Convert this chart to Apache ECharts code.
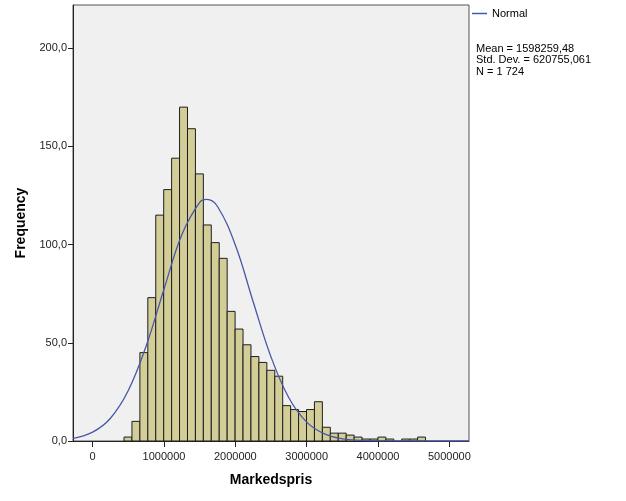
<!DOCTYPE html>
<html>
<head>
<meta charset="utf-8">
<script src="https://cdn.jsdelivr.net/npm/echarts@6/dist/echarts.min.js"></script>
<style>
html,body{margin:0;padding:0;background:#fff;}
#chart{width:626px;height:501px;}
</style>
</head>
<body>
<div id="chart"></div>
<script>
// Histogram of Markedspris
var binStart = 440000;
var binWidth = 111200;
var binCounts = [2, 10, 45, 73, 115, 128, 144, 170, 159, 136, 110, 101, 93, 66, 57, 49, 43, 40, 36, 33,
                 18, 16, 15, 16, 20, 7, 4, 4, 3, 2, 1, 1, 2, 1, 0, 1, 1, 2];

// Normal curve
var curveX = [-275000, 0, 250000, 500000, 750000, 1000000, 1250000, 1500000, 1600000, 1750000,
              2000000, 2250000, 2500000, 2750000, 3000000, 3250000, 3500000, 3750000, 4000000, 4500000, 5275000];
var curveY = [1.3, 4.5, 11.6, 25.7, 48.4, 77.3, 105.0, 121.5, 123.0, 119.4,
              99.8, 70.9, 42.8, 22.0, 9.6, 3.6, 1.1, 0.3, 0.1, 0.0, 0.0];

var xTicks = [0, 1000000, 2000000, 3000000, 4000000, 5000000];
var yTicks = [0, 50, 100, 150, 200];

var statsLines = ['Mean = 1598259,48', 'Std. Dev. = 620755,061', 'N = 1 724'];

var barData = binCounts.map(function (c, i) {
  return [binStart + i * binWidth, binStart + (i + 1) * binWidth, c];
});
var curveData = curveX.map(function (x, i) { return [x, curveY[i]]; });

var FONT = '"Liberation Sans", Arial, sans-serif';
var CURVE = '#4858A8';
var chart = echarts.init(document.getElementById('chart'), null, {renderer: 'canvas'});
chart.setOption({
  backgroundColor: '#ffffff',
  animation: false,
  textStyle: {fontFamily: FONT},
  grid: {
    left: 73, right: 157, top: 5, bottom: 60,
    show: true, backgroundColor: '#F0F0F0', borderColor: '#555555', borderWidth: 1
  },
  legend: {
    left: 467, top: 3,
    itemWidth: 15, itemHeight: 10, itemGap: 4,
    textStyle: {fontFamily: FONT, fontSize: 11, color: '#000'},
    data: [{name: 'Normal', icon: 'path://M0,4 L20,4 L20,6 L0,6 Z', itemStyle: {color: CURVE}}]
  },
  graphic: [{
    type: 'text', left: 476, top: 43,
    style: {text: statsLines.join('\n'), font: '11px ' + FONT, fill: '#000', lineHeight: 11.5}
  }],
  xAxis: {
    type: 'value', min: -275000, max: 5275000,
    name: 'Markedspris', nameLocation: 'middle', nameGap: 32,
    nameTextStyle: {fontFamily: FONT, fontSize: 14, fontWeight: 'bold', color: '#000'},
    splitLine: {show: false},
    axisLine: {show: true, onZero: false, lineStyle: {color: '#222', width: 1}},
    axisTick: {show: true, length: 6, customValues: xTicks, lineStyle: {color: '#222'}},
    axisLabel: {customValues: xTicks, margin: 10, fontSize: 11, color: '#222', fontFamily: FONT,
      formatter: function (v) { return String(v); }}
  },
  yAxis: {
    type: 'value', min: 0, max: 222,
    name: 'Frequency', nameLocation: 'middle', nameGap: 39,
    nameTextStyle: {fontFamily: FONT, fontSize: 14, fontWeight: 'bold', color: '#000'},
    splitLine: {show: false},
    axisLine: {show: true, onZero: false, lineStyle: {color: '#222', width: 1}},
    axisTick: {show: true, length: 5, customValues: yTicks, lineStyle: {color: '#222'}},
    axisLabel: {customValues: yTicks, margin: 6, fontSize: 11, color: '#222', fontFamily: FONT,
      formatter: function (v) { return v.toFixed(1).replace('.', ','); }}
  },
  series: [{
    type: 'custom',
    name: 'hist',
    z: 2,
    data: barData,
    renderItem: function (params, api) {
      var p0 = api.coord([api.value(0), api.value(2)]);
      var p1 = api.coord([api.value(1), 0]);
      if (api.value(2) <= 0) return null;
      return {
        type: 'rect',
        shape: {x: p0[0], y: p0[1], width: p1[0] - p0[0], height: p1[1] - p0[1]},
        style: {fill: '#D3CE97', stroke: '#1e1e1e', lineWidth: 1}
      };
    }
  }, {
    type: 'line',
    name: 'Normal',
    z: 5,
    data: curveData,
    smooth: 0.4,
    symbol: 'none',
    clip: true,
    color: CURVE,
    lineStyle: {color: CURVE, width: 1.3}
  }]
});
</script>
</body>
</html>
